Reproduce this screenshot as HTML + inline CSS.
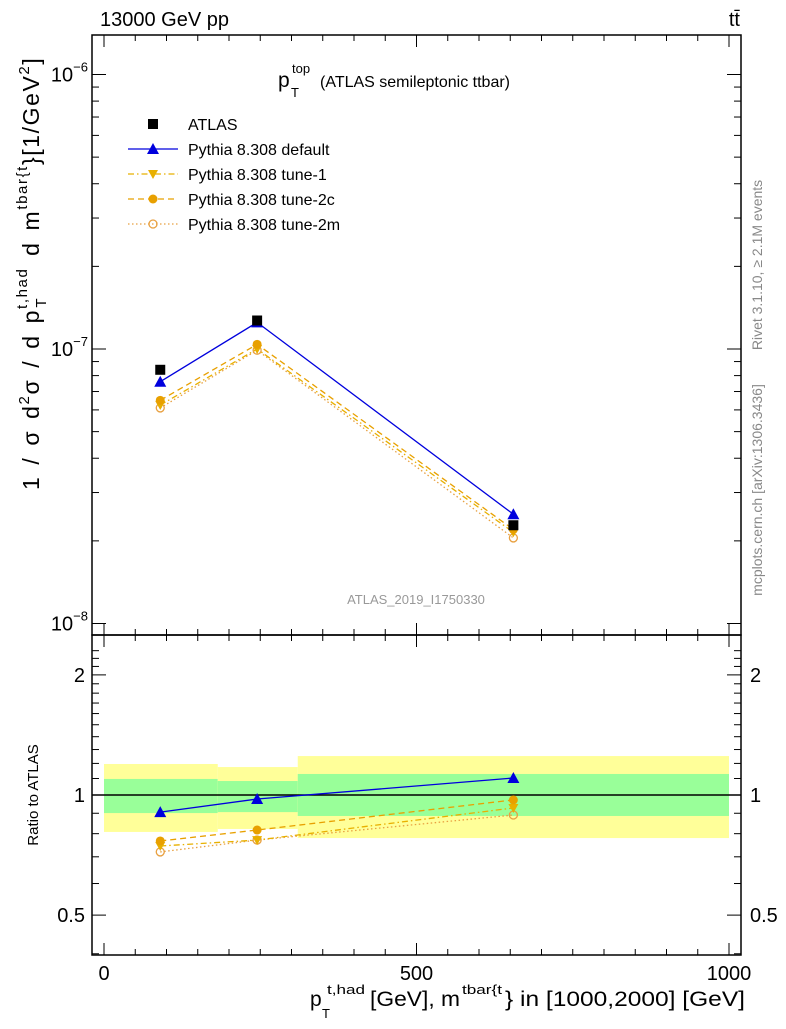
<!DOCTYPE html>
<html><head><meta charset="utf-8"><style>
body{margin:0;background:#fff}
svg{font-family:"Liberation Sans",sans-serif}
</style></head><body>
<svg id="c" width="786" height="1024" xmlns="http://www.w3.org/2000/svg">
<g id="bands"></g>
<g id="marks"></g>
<rect x="92" y="35" width="649" height="600" fill="none" stroke="#000" stroke-width="1.5"/>
<rect x="92" y="635" width="649" height="320" fill="none" stroke="#000" stroke-width="1.5"/>
<g id="ticks" stroke="#000" stroke-width="1"></g>
<text x="100" y="26" font-size="20">13000 GeV pp</text>
<text x="740" y="26" font-size="20" text-anchor="end">tt̄</text>
<g>
<text x="278" y="87" font-size="21">p</text>
<text x="292" y="73" font-size="13">top</text>
<text x="291" y="97" font-size="13">T</text>
<text x="320" y="87" font-size="16">(ATLAS semileptonic ttbar)</text>
</g>
<text x="416" y="604" font-size="13" fill="#999" text-anchor="middle">ATLAS_2019_I1750330</text>
<text transform="translate(762,265) rotate(-90)" font-size="14" fill="#888" text-anchor="middle">Rivet 3.1.10, ≥ 2.1M events</text>
<text transform="translate(762,490) rotate(-90)" font-size="14" fill="#888" text-anchor="middle">mcplots.cern.ch [arXiv:1306.3436]</text>
<text transform="rotate(-90)" x="-490" y="39" font-size="23" letter-spacing="1.6" word-spacing="3">1 / σ d<tspan font-size="15" dy="-10">2</tspan><tspan dy="10">σ / d p</tspan><tspan font-size="15" dy="-12">t,had</tspan><tspan font-size="15" dx="-40" dy="19">T</tspan><tspan dx="30" dy="-7"> d m</tspan><tspan font-size="15" dy="-12">tbar{t</tspan><tspan dy="12">}[1/GeV</tspan><tspan font-size="15" dy="-10">2</tspan><tspan dy="10">]</tspan></text>
<text transform="translate(38,795) rotate(-90)" font-size="15" text-anchor="middle">Ratio to ATLAS</text>
<g font-size="21">
<text x="310" y="1006">p</text>
<text x="327" y="994" font-size="13" textLength="38" lengthAdjust="spacingAndGlyphs">t,had</text>
<text x="322" y="1018" font-size="13">T</text>
<text x="370" y="1006" textLength="90" lengthAdjust="spacingAndGlyphs">[GeV], m</text>
<text x="462" y="994" font-size="13" textLength="40" lengthAdjust="spacingAndGlyphs">tbar{t</text>
<text x="505" y="1006" textLength="240" lengthAdjust="spacingAndGlyphs">} in [1000,2000] [GeV]</text>
</g>
<g id="legend"></g>
</svg>
<script>
const NS='http://www.w3.org/2000/svg';
const xCenters=[90,245,655];
const binEdges=[0,182,310,1000];
const atlas=[8.4e-8,1.27e-7,2.28e-8];
const pyDefault=[7.6e-8,1.25e-7,2.5e-8];
const pyTune1=[6.25e-8,1.0e-7,2.15e-8];
const pyTune2c=[6.5e-8,1.04e-7,2.2e-8];
const pyTune2m=[6.1e-8,9.9e-8,2.05e-8];
const rDefault=[0.906,0.977,1.103];
const rTune1=[0.745,0.771,0.928];
const rTune2c=[0.767,0.817,0.972];
const rTune2m=[0.72,0.771,0.891];
const yellowHi=[1.196,1.175,1.252];
const yellowLo=[0.808,0.822,0.78];
const greenHi=[1.097,1.084,1.129];
const greenLo=[0.901,0.906,0.886];
const xTicks=[0,500,1000];
const mainTicks=[-6,-7,-8];
const ratioTicks=[0.5,1,2];
const X=v=>104+v*0.625;
const Y=v=>349-(Math.log10(v)+7)*274.5;
const R=v=>795-Math.log10(v)*399;
function mk(tag,at,par){const e=document.createElementNS(NS,tag);for(const k in at)e.setAttribute(k,at[k]);(par||document.getElementById('marks')).appendChild(e);return e;}
const bands=document.getElementById('bands');
for(let i=0;i<3;i++){
 const x0=Math.max(X(binEdges[i]),93),x1=Math.min(X(binEdges[i+1]),740);
 let e=mk('rect',{x:x0,y:R(yellowHi[i]),width:x1-x0,height:R(yellowLo[i])-R(yellowHi[i]),fill:'#ffff99'},bands);
 
 
 e=mk('rect',{x:x0,y:R(greenHi[i]),width:x1-x0,height:R(greenLo[i])-R(greenHi[i]),fill:'#99ff99'},bands);
 
 
}
let l=mk('line',{x1:92,x2:741,y1:R(1),y2:R(1),stroke:'#000','stroke-width':1.5});


function marker(type,x,y,col,par){
 let e;
 if(type==='sq')e=mk('rect',{x:x-5,y:y-5,width:10,height:10,fill:'#000'},par);
 else if(type==='up')e=mk('polygon',{points:`${x},${y-6} ${x-6},${y+5} ${x+6},${y+5}`,fill:col},par);
 else if(type==='dn')e=mk('polygon',{points:`${x},${y+5} ${x-5},${y-4} ${x+5},${y-4}`,fill:col},par);
 else if(type==='dot')e=mk('circle',{cx:x,cy:y,r:4.5,fill:col},par);
 else e=mk('circle',{cx:x,cy:y,r:4,fill:'none',stroke:col,'stroke-width':1.3},par);
 return e;
}
const series=[
 {n:'pythia-tune-2m',d:pyTune2m,r:rTune2m,c:'#e8a040',dash:'1.5,2.5',m:'open'},
 {n:'pythia-tune-1',d:pyTune1,r:rTune1,c:'#e8b000',dash:'6,3,1.5,3',m:'dn'},
 {n:'pythia-tune-2c',d:pyTune2c,r:rTune2c,c:'#e8a000',dash:'6,4',m:'dot'},
 {n:'pythia-default',d:pyDefault,r:rDefault,c:'#0000dd',dash:'',m:'up'}];
for(const s of series){
 for(const [arr,f] of [[s.d,Y],[s.r,R]]){
  const p=mk('polyline',{points:arr.map((v,i)=>X(xCenters[i])+','+f(v)).join(' '),fill:'none',stroke:s.c,'stroke-width':1.3,'stroke-dasharray':s.dash});
  
  
  arr.forEach((v,i)=>{const m=marker(s.m,X(xCenters[i]),f(v),s.c);
   
   });
 }
}
atlas.forEach((v,i)=>{const m=marker('sq',X(xCenters[i]),Y(v));
 
 });
const tk=document.getElementById('ticks');
function line(x1,y1,x2,y2){mk('line',{x1,y1,x2,y2},tk);}
function txt(x,y,s,anchor,size,par){const t=mk('text',{x,y,'font-size':size||20,'text-anchor':anchor||'middle',stroke:'none'},par||tk);t.textContent=s;return t;}
for(let v=0;v<=1000;v+=50){const big=v%500===0;const x=X(v);
 line(x,955,x,955-(big?12:6));line(x,635,x,635+(big?12:6));line(x,635,x,635-(big?12:6));line(x,35,x,35+(big?12:6));}
xTicks.forEach(v=>{const t=txt(X(v),980,String(v));
 
 });
for(let e=-8;e<=-6;e++)for(let m=1;m<10;m++){const y=Y(m*Math.pow(10,e));if(y<36||y>634)continue;const L=m===1?14:7;
 line(92,y,92+L,y);line(741,y,741-L,y);}
mainTicks.forEach(e=>{const t=mk('text',{x:88,y:Y(Math.pow(10,e))+7,'font-size':20,'text-anchor':'end',stroke:'none'},tk);
 t.innerHTML='10<tspan font-size="13" dy="-10">'+e.toString().replace('-','−')+'</tspan>';
 
 });
for(let v=0.4;v<=2.4;v+=0.1){const y=R(v);if(y<636||y>954)continue;const big=[0.5,1,2].some(b=>Math.abs(b-v)<1e-6);const L=big?14:7;
 line(92,y,92+L,y);line(741,y,741-L,y);}
ratioTicks.forEach(v=>{let t=txt(85,R(v)+7,String(v),'end');
 
 
 t=txt(750,R(v)+7,String(v),'start');
 
 });
const lg=document.getElementById('legend');
const items=[['ATLAS','sq','#000',''],['Pythia 8.308 default','up','#0000dd',''],['Pythia 8.308 tune-1','dn','#e8b000','6,3,1.5,3'],['Pythia 8.308 tune-2c','dot','#e8a000','6,4'],['Pythia 8.308 tune-2m','open','#e8a040','1.5,2.5']];
items.forEach((it,i)=>{const y=124+i*25;
 if(i>0)mk('line',{x1:128,x2:178,y1:y,y2:y,stroke:it[2],'stroke-width':1.3,'stroke-dasharray':it[3]},lg);
 marker(it[1],153,y,it[2],lg);
 const t=mk('text',{x:188,y:y+6,'font-size':16},lg);t.textContent=it[0];
 
 });
</script>
</body></html>
